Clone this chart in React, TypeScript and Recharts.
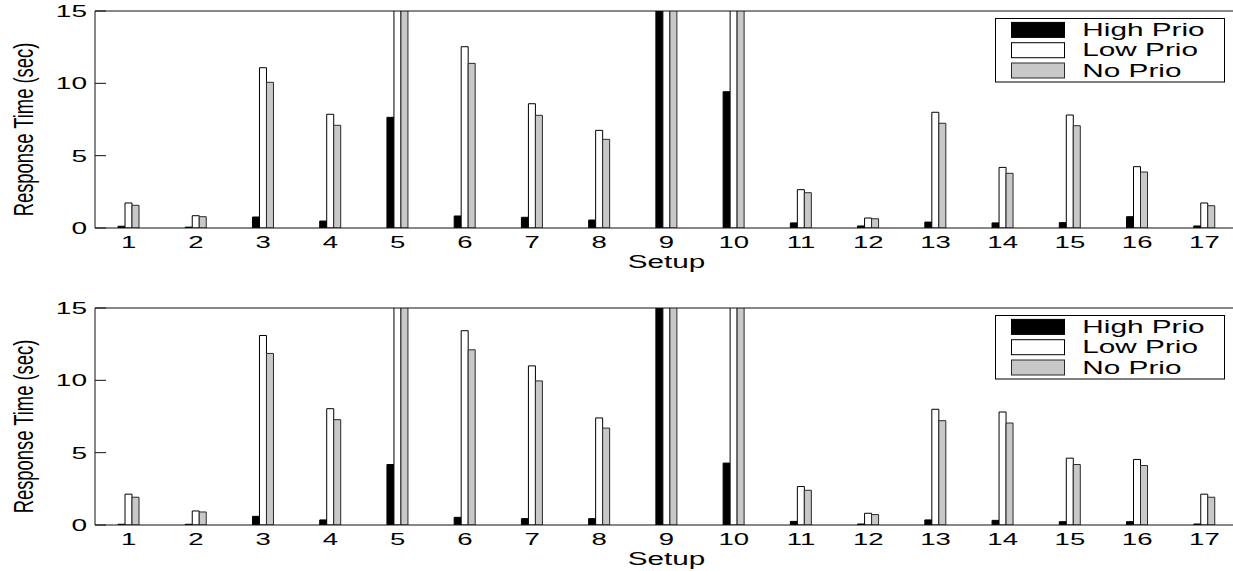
import React from 'react';
import { BarChart, Bar, XAxis, YAxis, Legend, Label } from 'recharts';

// ---- data ----
const setups = ['1', '2', '3', '4', '5', '6', '7', '8', '9', '10', '11', '12', '13', '14', '15', '16', '17'];
const yTicks = [0, 5, 10, 15];

// top panel (values above 15 are clipped in the original)
const highTop = [0.12, 0.06, 0.76, 0.48, 7.65, 0.83, 0.74, 0.55, 20, 9.42, 0.35, 0.14, 0.41, 0.35, 0.37, 0.78, 0.14];
const lowTop = [1.73, 0.85, 11.08, 7.86, 20, 12.53, 8.59, 6.75, 20, 20, 2.65, 0.69, 8.0, 4.19, 7.81, 4.24, 1.73];
const noTop = [1.57, 0.78, 10.07, 7.1, 20, 11.38, 7.79, 6.13, 20, 20, 2.44, 0.64, 7.24, 3.78, 7.07, 3.87, 1.54];

// bottom panel
const highBot = [0.05, 0.05, 0.6, 0.35, 4.18, 0.53, 0.44, 0.44, 20, 4.28, 0.25, 0.07, 0.35, 0.32, 0.23, 0.23, 0.07];
const lowBot = [2.13, 0.97, 13.1, 8.04, 20, 13.43, 11.0, 7.4, 20, 20, 2.66, 0.81, 8.0, 7.81, 4.62, 4.53, 2.13];
const noBot = [1.92, 0.9, 11.86, 7.28, 20, 12.11, 9.96, 6.7, 20, 20, 2.4, 0.72, 7.21, 7.05, 4.18, 4.11, 1.92];

const seriesKeys = ['high', 'low', 'none'];
const seriesNames = ['High Prio', 'Low Prio', 'No Prio'];
const seriesFills = ['#000000', '#ffffff', '#c8c8c8'];
const seriesStrokes = ['#000000', '#000000', '#2a2a2a'];

const xLabel = 'Setup';
const yLabel = 'Response Time (sec)';

const FONT = '"Liberation Sans", Arial, Helvetica, sans-serif';

function buildRows(high: number[], low: number[], none: number[]) {
  return setups.map((s, i) => ({ setup: s, high: high[i], low: low[i], none: none[i] }));
}

const topRows = buildRows(highTop, lowTop, noTop);
const botRows = buildRows(highBot, lowBot, noBot);

const XTick = (props: any) => {
  const { x, y, payload } = props;
  return (
    <g transform={`translate(${x},${y})`}>
      <text transform="scale(1.62,1)" textAnchor="middle" fontSize={17} fontFamily={FONT} fill="#000">
        {payload.value}
      </text>
    </g>
  );
};

const YTick = (props: any) => {
  const { x, y, payload } = props;
  return (
    <g transform={`translate(${x},${y})`}>
      <text transform="scale(1.65,1)" textAnchor="end" dy="0.36em" fontSize={17} fontFamily={FONT} fill="#000">
        {payload.value}
      </text>
    </g>
  );
};

const renderYLabel = (props: any) => {
  const vb = props.viewBox || { x: 0, y: 11, width: 95, height: 217 };
  const cy = vb.y + vb.height / 2 + 10;
  return (
    <text
      transform={`translate(33,${cy}) scale(1.5,1) rotate(-90)`}
      textAnchor="middle"
      fontSize={18.4}
      fontFamily={FONT}
      fill="#000"
    >
      {yLabel}
    </text>
  );
};

const renderXLabel = (props: any) => {
  const vb = props.viewBox || { x: 95, y: 228, width: 1143, height: 62 };
  return (
    <text
      transform={`translate(${vb.x + vb.width / 2},${vb.y + 40}) scale(1.65,1)`}
      textAnchor="middle"
      fontSize={18}
      fontFamily={FONT}
      fill="#000"
    >
      {xLabel}
    </text>
  );
};

const LegendBox = (props: any) => {
  const payload = (props.payload || []).filter((e: any) => seriesNames.indexOf(e.value) >= 0);
  return (
    <svg width={232} height={66} style={{ display: 'block', overflow: 'visible' }}>
      <rect x={0.5} y={0.5} width={229} height={63.5} fill="#ffffff" stroke="#000000" strokeWidth={1} />
      {payload.map((entry: any, i: number) => {
        const idx = seriesNames.indexOf(entry.value);
        const rowY = 4.4 + i * 20.3;
        return (
          <g key={entry.value}>
            <rect x={16.5} y={rowY} width={53} height={15} fill={seriesFills[idx]} stroke={seriesStrokes[idx]} strokeWidth={1} />
            <g transform={`translate(87.3,${rowY + 13.5})`}>
              <text transform="scale(1.7,1)" fontSize={17.5} fontFamily={FONT} fill="#000">
                {entry.value}
              </text>
            </g>
          </g>
        );
      })}
    </svg>
  );
};

const Panel = ({ rows }: { rows: any[] }) => (
  <BarChart
    width={1250}
    height={290}
    data={rows}
    margin={{ top: 10, right: 11, bottom: 0, left: 0 }}
    barGap={0}
    barSize={7}
  >
    <XAxis
      dataKey="setup"
      height={62}
      tickSize={-4}
      tickMargin={24}
      tick={<XTick />}
      axisLine={{ stroke: '#111', strokeWidth: 1 }}
      tickLine={false}
      interval={0}
    >
      <Label content={renderXLabel} />
    </XAxis>
    <XAxis
      xAxisId="top"
      dataKey="setup"
      orientation="top"
      height={1}
      tickSize={-4}
      tick={false}
      axisLine={{ stroke: '#111', strokeWidth: 1 }}
      tickLine={{ stroke: '#111' }}
      interval={0}
    />
    <YAxis
      width={95}
      domain={[0, 15]}
      ticks={yTicks}
      allowDataOverflow
      tickSize={-11}
      tickMargin={19}
      tick={<YTick />}
      axisLine={{ stroke: '#111', strokeWidth: 1 }}
      tickLine={{ stroke: '#111' }}
    >
      <Label content={renderYLabel} />
    </YAxis>
    <YAxis
      yAxisId="right"
      orientation="right"
      width={1}
      domain={[0, 15]}
      ticks={yTicks}
      allowDataOverflow
      tickSize={-11}
      tick={false}
      axisLine={{ stroke: '#111', strokeWidth: 1 }}
      tickLine={{ stroke: '#111' }}
    />
    <Legend
      layout="vertical"
      align="center"
      verticalAlign="middle"
      content={<LegendBox />}
      wrapperStyle={{ position: 'absolute', left: 995, top: 18, width: 232, height: 66 }}
    />
    {seriesKeys.map((k, i) => (
      <Bar
        key={k}
        dataKey={k}
        name={seriesNames[i]}
        fill={seriesFills[i]}
        stroke={seriesStrokes[i]}
        strokeWidth={1}
        isAnimationActive={false}
      />
    ))}
    {/* invisible series so that the mirrored frame axes (top / right) are drawn */}
    <Bar
      xAxisId="top"
      yAxisId="right"
      dataKey="low"
      name="frame"
      fill="none"
      stroke="none"
      legendType="none"
      isAnimationActive={false}
    />
  </BarChart>
);

export default function App() {
  return (
    <div
      style={{
        position: 'absolute',
        left: 0,
        top: 0,
        width: 1233,
        height: 571,
        overflow: 'hidden',
        background: '#ffffff',
      }}
    >
      <div style={{ position: 'absolute', left: 0, top: 0 }}>
        <Panel rows={topRows} />
      </div>
      <div style={{ position: 'absolute', left: 0, top: 296.5 }}>
        <Panel rows={botRows} />
      </div>
    </div>
  );
}
